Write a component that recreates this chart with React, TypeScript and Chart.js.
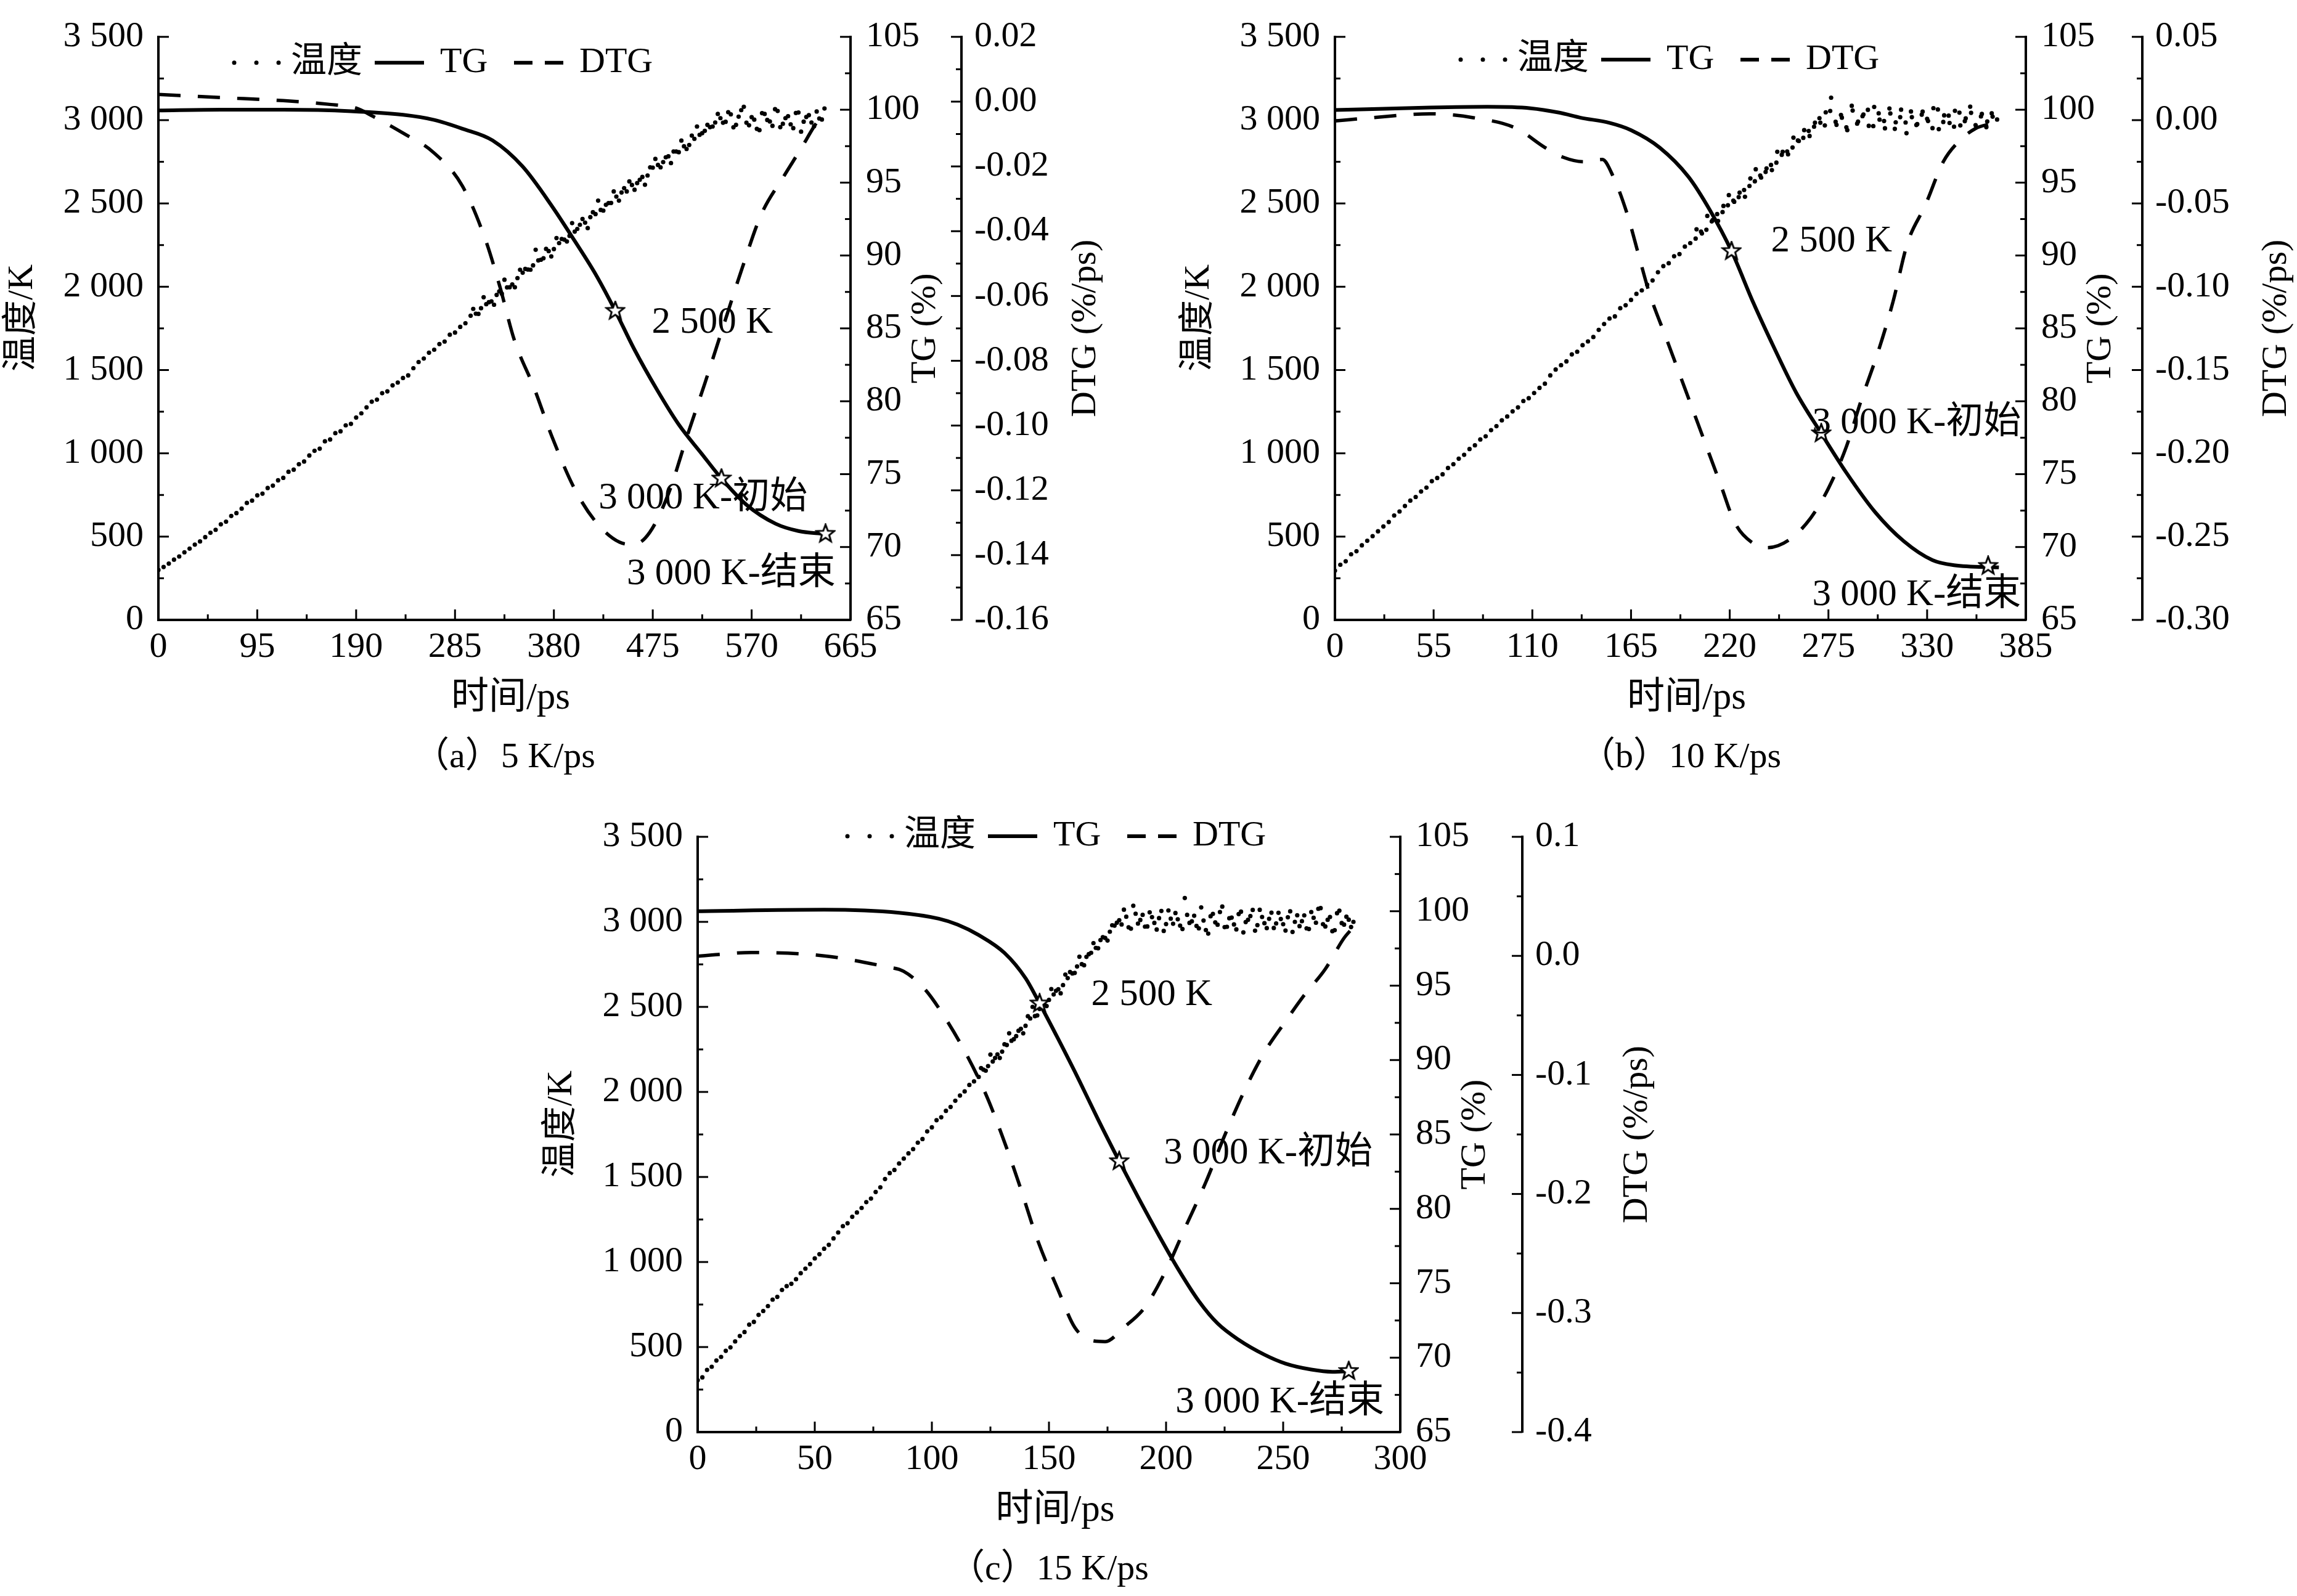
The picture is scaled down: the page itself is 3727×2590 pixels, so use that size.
import { useEffect, useRef } from 'react'
import { Chart, registerables } from 'chart.js'
import type { ChartConfiguration, Scale } from 'chart.js'

Chart.register(...registerables)

const FONT = '"Liberation Serif", "Times New Roman", "Noto Sans CJK SC", serif'
const FONT_SIZE = 58
const NOTE_FONT_SIZE = 61
const MAJOR_TICK = 17
const MINOR_TICK = 9

// axis ticks
const tempTicks = [0, 500, 1000, 1500, 2000, 2500, 3000, 3500]
const tgTicks = [65, 70, 75, 80, 85, 90, 95, 100, 105]
const timeTicksA = [0, 95, 190, 285, 380, 475, 570, 665]
const timeTicksB = [0, 55, 110, 165, 220, 275, 330, 385]
const timeTicksC = [0, 50, 100, 150, 200, 250, 300]
const dtgTicksA = [-0.16, -0.14, -0.12, -0.1, -0.08, -0.06, -0.04, -0.02, 0, 0.02]
const dtgTicksB = [-0.3, -0.25, -0.2, -0.15, -0.1, -0.05, 0, 0.05]
const dtgTicksC = [-0.4, -0.3, -0.2, -0.1, 0, 0.1]

// (a) 5 K/ps — temperature sampled every 5 ps
const tempA = [
  300, 318, 338, 362, 381, 406, 428, 452, 471, 497,
  523, 541, 574, 590, 624, 641, 668, 702, 716, 748,
  758, 792, 806, 838, 853, 889, 902, 935, 951, 987,
  1015, 1028, 1072, 1083, 1121, 1132, 1168, 1177, 1215, 1240,
  1276, 1310, 1322, 1361, 1372, 1408, 1425, 1452, 1468, 1511,
  1548, 1569, 1604, 1622, 1656, 1671, 1712, 1725, 1759, 1781,
  1826, 1838, 1871, 1895, 1912, 1951, 1958, 1996, 2014, 2052,
  2084, 2103, 2128, 2158, 2171, 2214, 2226, 2262, 2283, 2305,
  2331, 2372, 2385, 2418, 2436, 2461, 2492, 2503, 2541, 2566,
  2572, 2611, 2622, 2659, 2668, 2715, 2731, 2748, 2783, 2812,
  2808, 2843, 2851, 2888, 2912, 2936, 2958, 2986, 3012, 2990,
  3035, 2972, 3060, 2985, 3018, 2948, 3042, 3001, 2966, 3055,
  2978, 3024, 2952, 3046, 2991, 3030, 2963, 3010, 3070,
]
// second (noisier) set of readings, from 302.5 ps every 5 ps
const tempExtraA = [
  1867, 1837, 1937, 1907, 1892, 1972, 2042, 1997, 1997, 2102,
  2107, 2102, 2222, 2162, 2227, 2182, 2292, 2287, 2272, 2382,
  2347, 2407, 2352, 2447, 2517, 2457, 2502, 2572, 2517, 2592,
  2632, 2582, 2642, 2612, 2717, 2767, 2717, 2777, 2742, 2812,
  2877, 2827, 2907, 2962, 2922, 2972, 2962, 3037,
  2985, 3048, 2957, 3021, 3080, 2969, 3003, 2940, 3037, 2992,
  3066, 2958, 3012, 2975, 3043, 2931, 3019, 2986, 3052, 3004,
]
const tgTimeA = [0, 60, 120, 185, 235, 265, 292, 321, 350, 378, 400, 421, 439, 457, 479, 500, 522, 541, 565, 593, 615, 640]
const tgA = [99.95, 100.0, 100.0, 99.9, 99.65, 99.3, 98.7, 97.9, 96.1, 93.4, 91.0, 88.6, 86.2, 83.6, 80.8, 78.4, 76.4, 74.7, 72.9, 71.6, 71.1, 70.9]
const dtgTimeA = [0, 63, 120, 163, 190, 206, 235, 264, 292, 314, 328, 342, 361, 378, 400, 421, 443, 457, 472, 490, 508, 525, 543, 561, 579, 601, 618, 629, 638]
const dtgA = [
  0.0022, 0.0012, 0.0003, -0.0008, -0.002, -0.0045, -0.0097, -0.0156, -0.026, -0.0424,
  -0.057, -0.0736, -0.0884, -0.1033, -0.1196, -0.13, -0.136, -0.1367, -0.133, -0.1211,
  -0.1033, -0.087, -0.0691, -0.0513, -0.035, -0.023, -0.0142, -0.0082, -0.0038,
]
const starTimeA = [439, 541, 641]
const starTgA = [86.2, 74.7, 70.9]

// (b) 10 K/ps — temperature sampled every 3 ps
const tempB = [
  296, 331, 352, 394, 412, 448, 475, 503, 532, 561,
  588, 627, 651, 684, 716, 738, 771, 794, 833, 852,
  874, 912, 935, 968, 991, 1026, 1048, 1083, 1102, 1139,
  1163, 1198, 1221, 1252, 1276, 1314, 1331, 1362, 1393, 1418,
  1468, 1503, 1529, 1552, 1594, 1610, 1649, 1672, 1698, 1741,
  1776, 1809, 1822, 1871, 1889, 1921, 1957, 1978, 2012, 2038,
  2087, 2124, 2141, 2183, 2196, 2241, 2262, 2289, 2331, 2342,
  2392, 2436, 2448, 2489, 2517, 2538, 2581, 2605, 2633, 2668,
  2689, 2731, 2745, 2792, 2812, 2836, 2878, 2894, 2935, 2961,
  3012, 2968, 3055, 2990, 3031, 2957, 3086, 2979, 3024, 3062,
  2964, 3041, 2995, 3070, 2948, 3018, 2986, 3052, 2971, 3033,
  3008, 2952, 3064, 2989, 3027, 2961, 3045, 2994, 3081, 2970,
  3022, 2958, 3041, 3004,
]
// second (noisier) set of readings, from 201.5 ps every 3 ps
const tempExtraB = [
  2345, 2320, 2425, 2400, 2395, 2485, 2550, 2510, 2565, 2540,
  2650, 2705, 2655, 2710, 2700, 2810, 2810, 2795, 2895, 2875,
  2940, 2905, 2985,
  2985, 3047, 3135, 2972, 3015, 2940, 3058, 2991, 3034, 2966,
  3079, 3003, 2951, 3040, 2987, 3063, 2922, 3018, 2976, 3051,
  2995, 3072, 2946, 3029, 2983, 3056, 2968, 3011, 3044, 2958,
  3037, 2992, 3021,
]
const tgTimeB = [0, 53, 85, 109, 125, 137, 153, 165, 181, 197, 209, 221, 233, 245, 257, 271, 285, 301, 317, 333, 345, 370]
const tgB = [99.98, 100.15, 100.2, 100.1, 99.8, 99.45, 99.1, 98.6, 97.4, 95.4, 93.1, 90.3, 86.8, 83.6, 80.6, 77.8, 75.1, 72.4, 70.4, 69.1, 68.75, 68.6]
const dtgTimeB = [0, 21, 53, 77, 101, 117, 127, 139, 149, 155, 163, 169, 175, 185, 195, 205, 215, 223, 233, 241, 253, 265, 275, 285, 293, 303, 311, 319, 329, 339, 347, 357, 366]
const dtgB = [
  -0.0005, 0.0015, 0.0038, 0.0015, -0.0049, -0.0164, -0.0222, -0.025, -0.0236, -0.0337,
  -0.0568, -0.08, -0.103, -0.132, -0.161, -0.19, -0.219, -0.242, -0.254, -0.2566,
  -0.252, -0.239, -0.221, -0.196, -0.169, -0.138, -0.109, -0.074, -0.051, -0.025,
  -0.0135, -0.005, -0.002,
]
const starTimeB = [221, 271, 364]
const starTgB = [90.3, 77.8, 68.7]

// (c) 15 K/ps — temperature sampled every 2 ps
const tempC = [
  305, 322, 366, 384, 421, 442, 478, 498, 533, 565,
  588, 632, 648, 689, 712, 741, 779, 795, 836, 858,
  872, 899, 934, 961, 988, 1021, 1046, 1078, 1101, 1139,
  1174, 1211, 1228, 1266, 1291, 1318, 1352, 1373, 1412, 1439,
  1488, 1523, 1541, 1579, 1608, 1639, 1664, 1702, 1723, 1768,
  1792, 1834, 1851, 1889, 1912, 1948, 1979, 2003, 2041, 2062,
  2088, 2131, 2152, 2179, 2221, 2237, 2276, 2301, 2328, 2371,
  2389, 2432, 2446, 2488, 2516, 2541, 2573, 2604, 2628, 2669,
  2697, 2738, 2751, 2794, 2818, 2847, 2893, 2905, 2942, 2978,
  3010, 3072, 2968, 3095, 2990, 3041, 2973, 3028, 2955, 3064,
  2987, 3019, 3052, 2978, 3140, 2994, 3036, 2962, 3008, 2931,
  3047, 2983, 3090, 2971, 3025, 2956, 3060, 2999, 3034, 2948,
  3071, 2992, 3018, 2964, 3053, 2986, 3027, 2941, 3039, 3004,
  2962, 3058, 2995, 3081, 2973, 3029, 2951, 3066, 2984, 3013,
  3000,
]
// second (noisier) set of readings, from 121 ps every 2 ps
const tempExtraC = [
  2140, 2125, 2220, 2200, 2200, 2280, 2345, 2310, 2360, 2345,
  2445, 2500, 2450, 2515, 2505, 2605, 2595, 2580, 2690, 2705,
  2700, 2795, 2745, 2810, 2875, 2845, 2910, 2890, 2980, 2995,
  2985, 3030, 2960, 3048, 3011, 2972, 3056, 2994, 3022, 2947,
  3067, 2989, 3015, 2958, 3041, 3003, 2976, 3085, 2952, 3033,
  2997, 3058, 2969, 3021, 2985, 3046, 2938, 3012, 3070, 2981,
  3029, 2963, 3054, 2991, 3017, 2949, 3062, 3000, 2975, 3038,
  2958, 3024, 3077, 2986, 3012, 2945, 3051, 2993, 3030, 2970,
]
const tgTimeC = [0, 54, 86, 103, 111, 120, 131, 140, 146, 154, 163, 171, 180, 188, 197, 205, 214, 222, 231, 242, 251, 262, 271, 280]
const tgC = [100.0, 100.1, 99.9, 99.5, 99.1, 98.4, 97.2, 95.5, 93.8, 91.4, 88.6, 86.0, 83.2, 80.8, 78.2, 76.0, 73.8, 72.3, 71.2, 70.2, 69.6, 69.2, 69.05, 69.1]
const dtgTimeC = [0, 23, 54, 80, 88, 97, 105, 114, 123, 130, 137, 145, 154, 161, 168, 174, 182, 191, 200, 208, 217, 225, 234, 242, 251, 259, 268, 276, 279]
const dtgC = [
  -0.0003, 0.0028, 0, -0.009, -0.013, -0.028, -0.05, -0.08, -0.116, -0.151,
  -0.19, -0.238, -0.281, -0.312, -0.323, -0.324, -0.312, -0.295, -0.264, -0.229,
  -0.19, -0.151, -0.111, -0.081, -0.055, -0.033, -0.011, 0.015, 0.022,
]
const starTimeC = [146, 180, 278]
const starTgC = [93.8, 83.2, 69.1]

const noteTexts = ['2 500 K', '3 000 K-初始', '3 000 K-结束']

interface Note {
  t: number
  temp: number
}

interface PanelSpec {
  id: string
  left: number
  top: number
  width: number
  height: number
  leftWidth: number
  tgWidth: number
  dtgWidth: number
  xHeight: number
  padTop: number
  timeTicks: number[]
  dtgTicks: number[]
  dtgDigits: number
  tempStep: number
  temp: number[]
  tempExtraStart: number
  tempExtra: number[]
  tgTime: number[]
  tg: number[]
  dtgTime: number[]
  dtg: number[]
  starTime: number[]
  starTg: number[]
  notes: Note[]
  legendX: number
  legendY: number
  dtgTitleOffset: number
  caption: string
}

const panels: PanelSpec[] = [
  {
    id: 'a', left: 0, top: 0, width: 1880, height: 1290,
    leftWidth: 257, tgWidth: 180, dtgWidth: 320, xHeight: 284, padTop: 40,
    timeTicks: timeTicksA, dtgTicks: dtgTicksA, dtgDigits: 2,
    tempStep: 5, temp: tempA, tempExtraStart: 302.5, tempExtra: tempExtraA,
    tgTime: tgTimeA, tg: tgA, dtgTime: dtgTimeA, dtg: dtgA,
    starTime: starTimeA, starTg: starTgA,
    notes: [{ t: 474, temp: 1783 }, { t: 423, temp: 728 }, { t: 450, temp: 275 }],
    legendX: 119, legendY: 42, dtgTitleOffset: 202,
    caption: '（a）5 K/ps',
  },
  {
    id: 'b', left: 1890, top: 0, width: 1837, height: 1290,
    leftWidth: 276, tgWidth: 189, dtgWidth: 251, xHeight: 284, padTop: 40,
    timeTicks: timeTicksB, dtgTicks: dtgTicksB, dtgDigits: 2,
    tempStep: 3, temp: tempB, tempExtraStart: 201.5, tempExtra: tempExtraB,
    tgTime: tgTimeB, tg: tgB, dtgTime: dtgTimeB, dtg: dtgB,
    starTime: starTimeB, starTg: starTgB,
    notes: [{ t: 243, temp: 2272 }, { t: 266, temp: 1181 }, { t: 266, temp: 149 }],
    legendX: 200, legendY: 37, dtgTitleOffset: 218,
    caption: '（b）10 K/ps',
  },
  {
    id: 'c', left: 860, top: 1290, width: 2000, height: 1300,
    leftWidth: 272, tgWidth: 198, dtgWidth: 390, xHeight: 266, padTop: 68,
    timeTicks: timeTicksC, dtgTicks: dtgTicksC, dtgDigits: 1,
    tempStep: 2, temp: tempC, tempExtraStart: 121, tempExtra: tempExtraC,
    tgTime: tgTimeC, tg: tgC, dtgTime: dtgTimeC, dtg: dtgC,
    starTime: starTimeC, starTg: starTgC,
    notes: [{ t: 168, temp: 2569 }, { t: 199, temp: 1638 }, { t: 204, temp: 174 }],
    legendX: 239, legendY: -1, dtgTitleOffset: 187,
    caption: '（c）15 K/ps',
  },
]

function formatTemp(value: number) {
  if (value < 1000) return String(value)
  return `${Math.floor(value / 1000)} ${String(value % 1000).padStart(3, '0')}`
}

function pairs(xs: number[], ys: number[]) {
  return xs.map((x, i) => ({ x, y: ys[i] }))
}

function sampled(start: number, step: number, ys: number[]) {
  return ys.map((y, i) => ({ x: start + i * step, y }))
}

function makeStar(size: number) {
  const canvas = document.createElement('canvas')
  canvas.width = size
  canvas.height = size
  const g = canvas.getContext('2d')
  if (!g) return canvas
  const c = size / 2
  const outer = size / 2 - 2
  const inner = outer * 0.42
  g.beginPath()
  for (let i = 0; i < 10; i++) {
    const angle = -Math.PI / 2 + (i * Math.PI) / 5
    const r = i % 2 === 0 ? outer : inner
    g.lineTo(c + r * Math.cos(angle), c + r * Math.sin(angle))
  }
  g.closePath()
  g.fillStyle = '#fff'
  g.fill()
  g.lineWidth = 3
  g.strokeStyle = '#000'
  g.stroke()
  return canvas
}

function makeDecor(spec: PanelSpec) {
  return {
    id: `decor-${spec.id}`,
    afterDraw(chart: Chart) {
      const { ctx, chartArea: area } = chart
      const sx = chart.scales.x
      const sy = chart.scales.y
      const sTg = chart.scales.y1
      const sDtg = chart.scales.y2

      ctx.save()
      ctx.strokeStyle = '#000'
      ctx.fillStyle = '#000'
      ctx.lineWidth = 3

      const seg = (x1: number, y1: number, x2: number, y2: number) => {
        ctx.beginPath()
        ctx.moveTo(x1, y1)
        ctx.lineTo(x2, y2)
        ctx.stroke()
      }
      const marks = (scale: Scale, values: number[], draw: (p: number, len: number) => void) => {
        values.forEach((v, i) => {
          draw(scale.getPixelForValue(v), MAJOR_TICK)
          if (i < values.length - 1) {
            draw(scale.getPixelForValue((v + values[i + 1]) / 2), MINOR_TICK)
          }
        })
      }
      // inward tick marks, major and minor
      marks(sx, spec.timeTicks, (p, len) => seg(p, area.bottom, p, area.bottom - len))
      marks(sy, tempTicks, (p, len) => seg(area.left, p, area.left + len, p))
      marks(sTg, tgTicks, (p, len) => seg(area.right, p, area.right - len, p))
      marks(sDtg, spec.dtgTicks, (p, len) => seg(sDtg.left, p, sDtg.left - len, p))

      ctx.font = `${FONT_SIZE}px ${FONT}`
      ctx.textBaseline = 'middle'

      // legend
      const lx = area.left + spec.legendX
      const ly = area.top + spec.legendY
      ctx.textAlign = 'left'
      ;[4, 40, 76].forEach((dx) => {
        ctx.beginPath()
        ctx.arc(lx + dx, ly, 3.5, 0, Math.PI * 2)
        ctx.fill()
      })
      ctx.fillText('温度', lx + 96, ly)
      ctx.lineWidth = 6
      seg(lx + 232, ly, lx + 312, ly)
      ctx.fillText('TG', lx + 338, ly)
      seg(lx + 458, ly, lx + 488, ly)
      seg(lx + 508, ly, lx + 538, ly)
      ctx.fillText('DTG', lx + 564, ly)

      // notes next to the markers
      ctx.font = `${NOTE_FONT_SIZE}px ${FONT}`
      spec.notes.forEach((note, i) => {
        ctx.fillText(noteTexts[i], sx.getPixelForValue(note.t), sy.getPixelForValue(note.temp))
      })
      ctx.font = `${FONT_SIZE}px ${FONT}`

      // axis titles
      const midY = (area.top + area.bottom) / 2
      const vertical = (text: string, x: number, y: number) => {
        ctx.save()
        ctx.translate(x, y)
        ctx.rotate(-Math.PI / 2)
        ctx.textAlign = 'center'
        ctx.fillText(text, 0, 0)
        ctx.restore()
      }
      vertical('温度/K', area.left - 220, midY - 17)
      vertical('TG (%)', area.right + 122, midY)
      vertical('DTG (%/ps)', sDtg.left + spec.dtgTitleOffset, midY)

      ctx.textAlign = 'center'
      const midX = (area.left + area.right) / 2
      ctx.font = `${NOTE_FONT_SIZE}px ${FONT}`
      ctx.fillText('时间/ps', midX + 10, area.bottom + 128)
      ctx.font = `${FONT_SIZE}px ${FONT}`
      ctx.fillText(spec.caption, midX, area.bottom + 224)
      ctx.restore()
    },
  }
}

function buildConfig(spec: PanelSpec): ChartConfiguration<'line'> {
  const tickFont = { family: FONT, size: FONT_SIZE }
  const border = { display: true, color: '#000', width: 4 }
  const grid = { display: false, drawTicks: false }
  const star = makeStar(34)

  return {
    type: 'line',
    data: {
      datasets: [
        {
          label: '温度',
          data: [
            ...sampled(0, spec.tempStep, spec.temp),
            ...sampled(spec.tempExtraStart, spec.tempStep, spec.tempExtra),
          ],
          showLine: false,
          pointRadius: 3.6,
          pointBackgroundColor: '#000',
          pointBorderWidth: 0,
          yAxisID: 'y',
          order: 3,
        },
        {
          label: 'TG',
          data: pairs(spec.tgTime, spec.tg),
          borderColor: '#000',
          borderWidth: 6,
          pointRadius: 0,
          cubicInterpolationMode: 'monotone',
          yAxisID: 'y1',
          order: 1,
        },
        {
          label: 'DTG',
          data: pairs(spec.dtgTime, spec.dtg),
          borderColor: '#000',
          borderWidth: 5.5,
          borderDash: [36, 28],
          pointRadius: 0,
          cubicInterpolationMode: 'monotone',
          yAxisID: 'y2',
          order: 2,
        },
        {
          label: 'marks',
          data: pairs(spec.starTime, spec.starTg),
          showLine: false,
          pointStyle: star,
          pointRadius: 17,
          yAxisID: 'y1',
          order: 0,
        },
      ],
    },
    options: {
      animation: false,
      responsive: false,
      devicePixelRatio: 1,
      events: [],
      layout: { padding: { top: spec.padTop, left: 0, right: 0, bottom: 0 } },
      plugins: {
        legend: { display: false },
        tooltip: { enabled: false },
      },
      scales: {
        x: {
          type: 'linear',
          position: 'bottom',
          min: 0,
          max: spec.timeTicks[spec.timeTicks.length - 1],
          border,
          grid,
          afterBuildTicks: (scale) => {
            scale.ticks = spec.timeTicks.map((value) => ({ value }))
          },
          afterFit: (scale) => {
            scale.height = spec.xHeight
          },
          ticks: {
            font: tickFont,
            color: '#000',
            padding: 10,
            maxRotation: 0,
            autoSkip: false,
            callback: (value) => String(value),
          },
        },
        y: {
          type: 'linear',
          position: 'left',
          min: 0,
          max: 3500,
          border,
          grid,
          afterBuildTicks: (scale) => {
            scale.ticks = tempTicks.map((value) => ({ value }))
          },
          afterFit: (scale) => {
            scale.width = spec.leftWidth
          },
          ticks: {
            font: tickFont,
            color: '#000',
            padding: 24,
            callback: (value) => formatTemp(Number(value)),
          },
        },
        y1: {
          type: 'linear',
          position: 'right',
          weight: 0,
          min: 65,
          max: 105,
          border,
          grid,
          afterBuildTicks: (scale) => {
            scale.ticks = tgTicks.map((value) => ({ value }))
          },
          afterFit: (scale) => {
            scale.width = spec.tgWidth
          },
          ticks: {
            font: tickFont,
            color: '#000',
            padding: 25,
            callback: (value) => String(value),
          },
        },
        y2: {
          type: 'linear',
          position: 'right',
          weight: 1,
          min: spec.dtgTicks[0],
          max: spec.dtgTicks[spec.dtgTicks.length - 1],
          border,
          grid,
          afterBuildTicks: (scale) => {
            scale.ticks = spec.dtgTicks.map((value) => ({ value }))
          },
          afterFit: (scale) => {
            scale.width = spec.dtgWidth
          },
          ticks: {
            font: tickFont,
            color: '#000',
            padding: 21,
            callback: (value) => Number(value).toFixed(spec.dtgDigits),
          },
        },
      },
    },
    plugins: [makeDecor(spec)],
  }
}

function Panel({ spec }: { spec: PanelSpec }) {
  const canvasRef = useRef<HTMLCanvasElement | null>(null)

  useEffect(() => {
    if (!canvasRef.current) {
      return undefined
    }
    const chart = new Chart(canvasRef.current, buildConfig(spec))
    return () => {
      chart.destroy()
    }
  }, [spec])

  return (
    <canvas
      ref={canvasRef}
      width={spec.width}
      height={spec.height}
      style={{
        position: 'absolute',
        left: spec.left,
        top: spec.top,
        width: spec.width,
        height: spec.height,
      }}
    />
  )
}

export default function App() {
  return (
    <div
      style={{
        position: 'absolute',
        left: 0,
        top: 0,
        width: 3727,
        height: 2590,
        background: '#fff',
        overflow: 'hidden',
      }}
    >
      {panels.map((spec) => (
        <Panel key={spec.id} spec={spec} />
      ))}
    </div>
  )
}
